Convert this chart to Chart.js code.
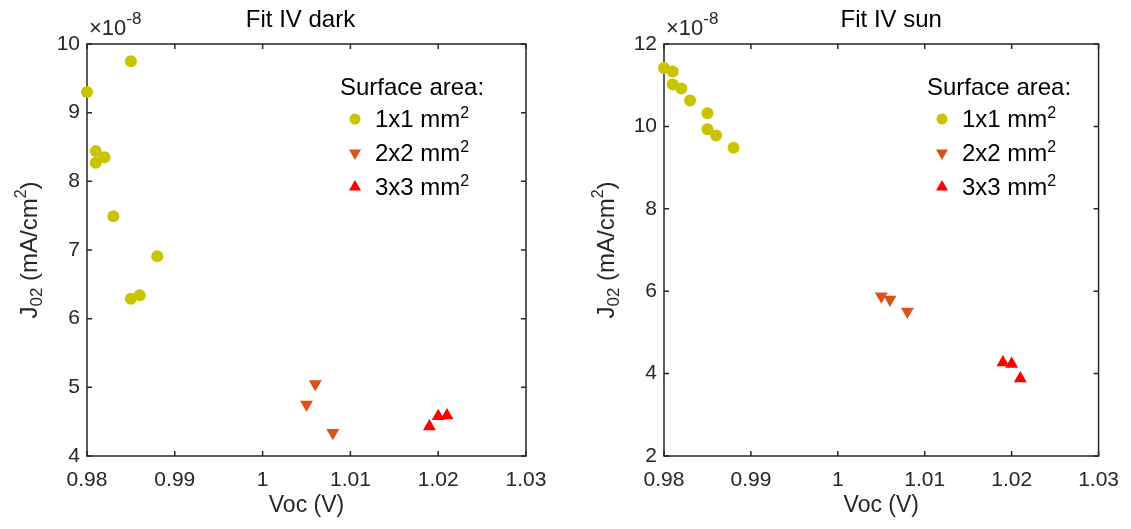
<!DOCTYPE html>
<html>
<head>
<meta charset="utf-8">
<script src="https://cdn.jsdelivr.net/npm/chart.js@4.4.1/dist/chart.umd.min.js"></script>
<style>
  html, body { margin: 0; padding: 0; background: #fff; }
  #wrap { position: relative; width: 1131px; height: 529px; }
  .panel { position: absolute; top: 0; height: 529px; }
</style>
</head>
<body>
<div id="wrap">
  <div class="panel" style="left:0;width:565px"><canvas id="darkChart" width="565" height="529"></canvas></div>
  <div class="panel" style="left:565px;width:566px"><canvas id="sunChart" width="566" height="529"></canvas></div>
</div>
<script>
// J02 values are in units of 1e-8 mA/cm^2 (axis shows the x10^-8 factor)
const sizeLabels = ['1x1 mm', '2x2 mm', '3x3 mm'];
const legendTitle = 'Surface area:';

// Fit IV dark
const darkVoc1 = [0.980, 0.985, 0.981, 0.981, 0.982, 0.983, 0.988, 0.985, 0.986];
const darkJ1   = [9.30, 9.75, 8.44, 8.27, 8.35, 7.49, 6.91, 6.29, 6.34];
const darkVoc2 = [1.006, 1.005, 1.008];
const darkJ2   = [5.05, 4.75, 4.34];
const darkVoc3 = [1.019, 1.020, 1.021];
const darkJ3   = [4.43, 4.58, 4.59];

// Fit IV sun
const sunVoc1 = [0.980, 0.981, 0.981, 0.982, 0.983, 0.985, 0.985, 0.986, 0.988];
const sunJ1   = [11.42, 11.33, 11.02, 10.92, 10.63, 10.32, 9.93, 9.78, 9.48];
const sunVoc2 = [1.005, 1.006, 1.008];
const sunJ2   = [5.88, 5.80, 5.51];
const sunVoc3 = [1.019, 1.020, 1.021];
const sunJ3   = [4.27, 4.23, 3.88];

// tick labels
const xTickValues = [0.98, 0.99, 1, 1.01, 1.02, 1.03];
const darkYTicks = [4, 5, 6, 7, 8, 9, 10];
const sunYTicks = [2, 4, 6, 8, 10, 12];

const FONT = '"Liberation Sans", Arial, Helvetica, sans-serif';
const AXIS_COLOR = '#262626';
const colors = ['rgb(200,196,0)', '#D95319', '#FF0000'];
const markers = [
  { style: 'circle', rotation: 0, radius: 6, legendRadius: 5.5 },
  { style: 'triangle', rotation: 180, radius: 7.5, legendRadius: 7 },
  { style: 'triangle', rotation: 0, radius: 7.5, legendRadius: 7 }
];

const font = size => size + 'px ' + FONT;

function drawMarker(ctx, m, r, x, y, color) {
  ctx.save();
  ctx.fillStyle = color;
  ctx.beginPath();
  if (m.style === 'circle') {
    ctx.arc(x, y, r, 0, Math.PI * 2);
  } else {
    let a = m.rotation * Math.PI / 180;
    for (let k = 0; k < 3; k++) {
      const px = x + Math.sin(a) * r, py = y - Math.cos(a) * r;
      if (k === 0) ctx.moveTo(px, py); else ctx.lineTo(px, py);
      a += 2 * Math.PI / 3;
    }
    ctx.closePath();
  }
  ctx.fill();
  ctx.restore();
}

// draw text pieces [text, size, dy] one after the other, returns width
function drawPieces(ctx, parts, x, y, doDraw) {
  let cx = x;
  parts.forEach(([txt, size, dy]) => {
    ctx.font = font(size);
    if (doDraw) ctx.fillText(txt, cx, y + dy);
    cx += ctx.measureText(txt).width;
  });
  return cx - x;
}

const panelDeco = {
  id: 'panelDeco',
  beforeDatasetsDraw(chart) {
    const { ctx, chartArea: a, scales: { x, y } } = chart;
    ctx.save();
    ctx.strokeStyle = AXIS_COLOR;
    ctx.lineWidth = 1.5;
    ctx.strokeRect(a.left, a.top, a.right - a.left, a.bottom - a.top);
    ctx.beginPath();
    x.ticks.forEach(t => {
      const px = x.getPixelForValue(t.value);
      ctx.moveTo(px, a.bottom); ctx.lineTo(px, a.bottom - 5);
      ctx.moveTo(px, a.top); ctx.lineTo(px, a.top + 5);
    });
    y.ticks.forEach(t => {
      const py = y.getPixelForValue(t.value);
      ctx.moveTo(a.left, py); ctx.lineTo(a.left + 5, py);
      ctx.moveTo(a.right, py); ctx.lineTo(a.right - 5, py);
    });
    ctx.stroke();
    ctx.restore();
  },
  afterDraw(chart, args, opts) {
    const { ctx, chartArea: a } = chart;
    ctx.save();
    ctx.textBaseline = 'alphabetic';

    // title
    ctx.fillStyle = '#000';
    ctx.textAlign = 'center';
    ctx.font = font(24);
    ctx.fillText(opts.title, (a.left + a.right) / 2 + opts.titleOffset, 27);

    // x10^-8 factor
    ctx.textAlign = 'left';
    ctx.fillStyle = AXIS_COLOR;
    drawPieces(ctx, [['\u00d710', 22, 0], ['-8', 17, -11]], a.left + 2, 35, true);

    // y axis label, rotated
    ctx.save();
    ctx.translate(a.left - 50, (a.top + a.bottom) / 2);
    ctx.rotate(-Math.PI / 2);
    const yParts = [['J', 24, 0], ['02', 17, 5], [' (mA/cm', 24, 0], ['2', 16, -11], [')', 24, 0]];
    const w = drawPieces(ctx, yParts, 0, 0, false);
    drawPieces(ctx, yParts, -w / 2, 0, true);
    ctx.restore();

    // legend
    const lx = opts.legendX;
    ctx.fillStyle = '#000';
    ctx.font = font(24);
    ctx.fillText(legendTitle, lx, 95);
    chart.data.datasets.forEach((ds, i) => {
      const base = 127 + i * 34;
      drawMarker(ctx, markers[i], markers[i].legendRadius, lx + 15, base - 8, colors[i]);
      ctx.fillStyle = '#000';
      drawPieces(ctx, [[ds.label, 24, 0], ['2', 16, -9]], lx + 35, base, true);
    });
    ctx.restore();
  }
};

function makeDatasets(vocs, js) {
  return vocs.map((voc, i) => ({
    label: sizeLabels[i],
    data: voc.map((v, k) => ({ x: v, y: js[i][k] })),
    showLine: false,
    clip: false,
    pointStyle: markers[i].style,
    pointRotation: markers[i].rotation,
    pointRadius: markers[i].radius,
    pointHoverRadius: markers[i].radius,
    pointBackgroundColor: colors[i],
    pointBorderColor: colors[i],
    pointBorderWidth: 0
  }));
}

function tickLabel(v) {
  return String(Number(Number(v).toFixed(2)));
}

function makeChart(id, vocs, js, yTicks, deco, axisWidth, rightPad) {
  const ctx = document.getElementById(id).getContext('2d');
  return new Chart(ctx, {
    type: 'scatter',
    data: { datasets: makeDatasets(vocs, js) },
    plugins: [panelDeco],
    options: {
      responsive: false,
      animation: false,
      events: [],
      layout: { padding: { left: 0, top: 44, right: rightPad, bottom: 0 } },
      plugins: {
        legend: { display: false },
        tooltip: { enabled: false },
        panelDeco: deco
      },
      scales: {
        x: {
          type: 'linear',
          min: xTickValues[0],
          max: xTickValues[xTickValues.length - 1],
          afterBuildTicks: s => { s.ticks = xTickValues.map(v => ({ value: v })); },
          afterFit: s => { s.height = 73; },
          grid: { display: false, drawTicks: false },
          border: { display: false },
          ticks: {
            font: { family: FONT, size: 21 },
            color: AXIS_COLOR,
            padding: 12,
            maxRotation: 0,
            autoSkip: false,
            callback: tickLabel
          },
          title: {
            display: true,
            text: 'Voc (V)',
            color: AXIS_COLOR,
            font: { family: FONT, size: 23 },
            padding: { top: 0, bottom: 10 }
          }
        },
        y: {
          type: 'linear',
          min: yTicks[0],
          max: yTicks[yTicks.length - 1],
          afterBuildTicks: s => { s.ticks = yTicks.map(v => ({ value: v })); },
          afterFit: s => { s.width = axisWidth; },
          grid: { display: false, drawTicks: false },
          border: { display: false },
          ticks: {
            font: { family: FONT, size: 21 },
            color: AXIS_COLOR,
            padding: 7,
            autoSkip: false,
            callback: tickLabel
          }
        }
      }
    }
  });
}

makeChart('darkChart',
  [darkVoc1, darkVoc2, darkVoc3], [darkJ1, darkJ2, darkJ3], darkYTicks,
  { title: 'Fit IV dark', titleOffset: -6, legendX: 340 }, 87, 39);

makeChart('sunChart',
  [sunVoc1, sunVoc2, sunVoc3], [sunJ1, sunJ2, sunJ3], sunYTicks,
  { title: 'Fit IV sun', titleOffset: 10, legendX: 362 }, 99, 29);
</script>
</body>
</html>
